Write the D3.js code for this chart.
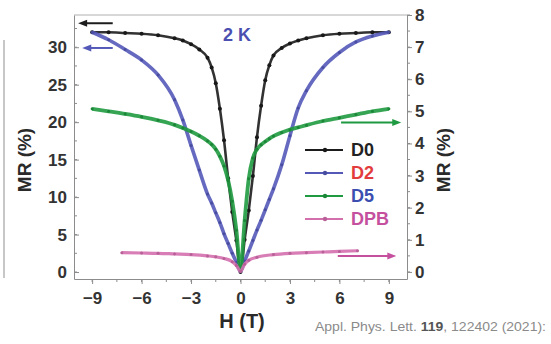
<!DOCTYPE html>
<html>
<head>
	<meta charset="utf-8">
	<title>MR vs H</title>
	<style>
	body{ margin:0; background:#fff; }
	svg{ display:block; font-family:"Liberation Sans", Arial, sans-serif; }
	.axis path, .axis line{ stroke:#8c8c8c; }
	.axis text{ font-size:17px; font-weight:bold; fill:#333; font-family:"Liberation Sans", Arial, sans-serif; }
	.minor line{ stroke:#8c8c8c; }
	</style>
	<script src="https://cdn.jsdelivr.net/npm/d3@7"></script>
</head>
<body>
<svg width="551" height="344"></svg>
<script>

	// field values (T) shared by D0, D2, D5
	var fieldH = [-9,-8,-7,-6,-5,-4,-3.5,-3,-2.5,-2,-1.75,-1.5,-1.25,-1,-0.75,-0.5,-0.25,0,
		0.25,0.5,0.75,1,1.25,1.5,1.75,2,2.5,3,3.5,4,5,6,7,8,9];
	// left axis, %
	var mrD0 = [32.0,32.0,31.9,31.8,31.6,31.2,30.9,30.4,29.7,28.6,27.3,25.2,21.8,17.6,12.5,8.0,4.2,0.0,
		4.3,8.2,12.8,18.0,22.2,25.6,27.6,28.9,29.9,30.5,30.9,31.2,31.6,31.8,31.9,32.0,32.0];
	var mrD2 = [32.0,31.0,29.7,28.3,26.3,23.0,20.3,16.9,13.6,10.4,9.2,7.9,6.6,5.1,3.8,2.5,1.3,0.1,
		1.5,2.8,4.2,5.6,6.9,8.3,9.7,11.1,14.3,18.2,21.9,24.2,27.3,29.3,30.7,31.5,32.0];
	// right axis, %
	var mrD5 = [5.08,5.0,4.92,4.83,4.72,4.58,4.48,4.37,4.24,4.08,3.97,3.82,3.6,3.3,2.85,2.2,1.3,0.05,
		1.6,2.9,3.55,3.82,3.96,4.06,4.15,4.23,4.34,4.43,4.5,4.57,4.7,4.8,4.9,5.0,5.08];
	var fieldDPB = [-7.2,-6,-5,-4,-3,-2,-1.5,-1,-0.5,-0.25,0,0.25,0.5,1,2,3,4,5,6,7.1];
	var mrDPB = [0.6,0.59,0.58,0.56,0.54,0.5,0.47,0.42,0.32,0.2,0.02,0.24,0.36,0.46,0.54,0.58,0.6,0.62,0.64,0.66];

	var seriesNames = ["D0", "D2", "D5", "DPB"];
	var lineColors = ["#1c1c1c", "#5459b8", "#1f9a40", "#d46fae"];
	var labelColors = ["#222222", "#e23c3c", "#3c4fb0", "#c4509e"];

	var leftTicks = [0, 5, 10, 15, 20, 25, 30];
	var rightTicks = [0, 1, 2, 3, 4, 5, 6, 7, 8];
	var xTicks = [-9, -6, -3, 0, 3, 6, 9];

	// axis arrows: [from H, to H], value, which axis
	var arrowH = [[-7.75, -9.85], [-7.75, -9.6], [6.1, 9.75], [5.9, 9.45]];
	var arrowMR = [33.2, 29.9, 4.65, 0.5];
	var arrowAxis = ["left", "left", "right", "right"];
	var arrowColors = ["#1c1c1c", "#5459b8", "#1f9a40", "#c4509e"];

	var svg = d3.select("svg");

	var x = d3.scaleLinear().domain([-10.1, 10.1]).range([74, 407]);
	var yL = d3.scaleLinear().domain([-0.93, 34.3]).range([279, 15]);
	var yR = d3.scaleLinear().domain([-0.22, 8]).range([279, 15]);

	var series = [
		{name: seriesNames[0], h: fieldH, mr: mrD0, y: yL, color: lineColors[0], w: 2.6},
		{name: seriesNames[1], h: fieldH, mr: mrD2, y: yL, color: lineColors[1], w: 3.6},
		{name: seriesNames[2], h: fieldH, mr: mrD5, y: yR, color: lineColors[2], w: 3.8},
		{name: seriesNames[3], h: fieldDPB, mr: mrDPB, y: yR, color: lineColors[3], w: 3.2}
	];

	// edge of the neighbouring panel
	svg.append("line")
		.attr("x1", 4).attr("x2", 4).attr("y1", 40).attr("y2", 278)
		.attr("stroke", "#b5b5b5").attr("stroke-width", 1.5);

	// frame top
	svg.append("line")
		.attr("x1", 74).attr("x2", 407).attr("y1", 15).attr("y2", 15)
		.attr("stroke", "#b0b0b0");

	// minor ticks
	var minor = svg.append("g").attr("class", "minor");
	d3.range(-9, 9.01, 1.5).forEach(function(h){
		minor.append("line").attr("x1", x(h)).attr("x2", x(h)).attr("y1", 279).attr("y2", 282);
	});
	d3.range(0, 32.6, 2.5).forEach(function(v){
		minor.append("line").attr("x1", 74).attr("x2", 77).attr("y1", yL(v)).attr("y2", yL(v));
	});
	d3.range(0, 8.01, 0.5).forEach(function(v){
		minor.append("line").attr("x1", 407).attr("x2", 410).attr("y1", yR(v)).attr("y2", yR(v));
	});

	svg.append("g")
		.attr("class", "axis")
		.attr("transform", "translate(0,279)")
		.call(d3.axisBottom(x).tickValues(xTicks).tickSize(5).tickPadding(8).tickSizeOuter(0))
		.selectAll("text").attr("dy", "0.71em");

	svg.append("g")
		.attr("class", "axis")
		.attr("transform", "translate(74,0)")
		.call(d3.axisLeft(yL).tickValues(leftTicks).tickSize(-5).tickPadding(7).tickSizeOuter(0));

	svg.append("g")
		.attr("class", "axis")
		.attr("transform", "translate(407,0)")
		.call(d3.axisRight(yR).tickValues(rightTicks).tickSize(5).tickPadding(3).tickSizeOuter(0));

	// curves
	series.forEach(function(s){
		var pts = s.h.map(function(h, i){ return [h, s.mr[i]]; });
		var line = d3.line()
			.x(function(d){ return x(d[0]); })
			.y(function(d){ return s.y(d[1]); })
			.curve(d3.curveMonotoneX);
		svg.append("path")
			.datum(pts)
			.attr("d", line)
			.attr("fill", "none")
			.attr("stroke", s.color)
			.attr("stroke-width", s.w)
			.attr("stroke-opacity", 0.9);
		svg.append("g").selectAll("circle")
			.data(pts)
			.enter().append("circle")
			.attr("cx", function(d){ return x(d[0]); })
			.attr("cy", function(d){ return s.y(d[1]); })
			.attr("r", s.name == "D0" ? 2 : 1.5)
			.attr("fill", d3.color(s.color).darker(0.4));
	});

	// arrows
	arrowH.forEach(function(a, i){
		var sc = arrowAxis[i] == "left" ? yL : yR;
		var yy = sc(arrowMR[i]);
		var x0 = x(a[0]), x1 = x(a[1]);
		var dir = x1 > x0 ? 1 : -1;
		svg.append("line")
			.attr("x1", x0).attr("x2", x1 - dir * 6)
			.attr("y1", yy).attr("y2", yy)
			.attr("stroke", arrowColors[i]).attr("stroke-width", 2);
		svg.append("path")
			.attr("d", "M" + x1 + "," + yy + "L" + (x1 - dir * 9) + "," + (yy - 3.5) + "L" + (x1 - dir * 9) + "," + (yy + 3.5) + "Z")
			.attr("fill", arrowColors[i]);
	});

	// legend
	var legend = svg.append("g");
	seriesNames.forEach(function(n, i){
		var ly = 150 + i * 23;
		legend.append("line")
			.attr("x1", 305).attr("x2", 343).attr("y1", ly).attr("y2", ly)
			.attr("stroke", lineColors[i]).attr("stroke-width", 2);
		legend.append("circle")
			.attr("cx", 325).attr("cy", ly).attr("r", 2.2)
			.attr("fill", d3.color(lineColors[i]).darker(0.4));
		legend.append("text")
			.attr("x", 351).attr("y", ly).attr("dy", "0.36em")
			.attr("font-size", 18).attr("font-weight", "bold")
			.attr("fill", labelColors[i])
			.text(n);
	});

	svg.append("text")
		.attr("x", 237).attr("y", 41)
		.attr("text-anchor", "middle")
		.attr("font-size", 18).attr("font-weight", "bold")
		.attr("fill", "#4b4fb0")
		.text("2 K");

	svg.append("text")
		.attr("transform", "translate(31,160) rotate(-90)")
		.attr("text-anchor", "middle")
		.attr("font-size", 19).attr("font-weight", "bold").attr("fill", "#2a2a2a")
		.text("MR (%)");

	svg.append("text")
		.attr("transform", "translate(450,160) rotate(-90)")
		.attr("text-anchor", "middle")
		.attr("font-size", 19).attr("font-weight", "bold").attr("fill", "#2a2a2a")
		.text("MR (%)");

	svg.append("text")
		.attr("x", 242).attr("y", 328)
		.attr("text-anchor", "middle")
		.attr("font-size", 20).attr("font-weight", "bold").attr("fill", "#2a2a2a")
		.text("H (T)");

	var cite = svg.append("text")
		.attr("x", 315).attr("y", 331)
		.attr("font-size", 12.5).attr("fill", "#8a8a8a")
		.attr("textLength", 231).attr("lengthAdjust", "spacingAndGlyphs");
	cite.append("tspan").text("Appl. Phys. Lett. ");
	cite.append("tspan").attr("font-weight", "bold").attr("fill", "#555").text("119");
	cite.append("tspan").text(", 122402 (2021):");

</script>
</body>
</html>
